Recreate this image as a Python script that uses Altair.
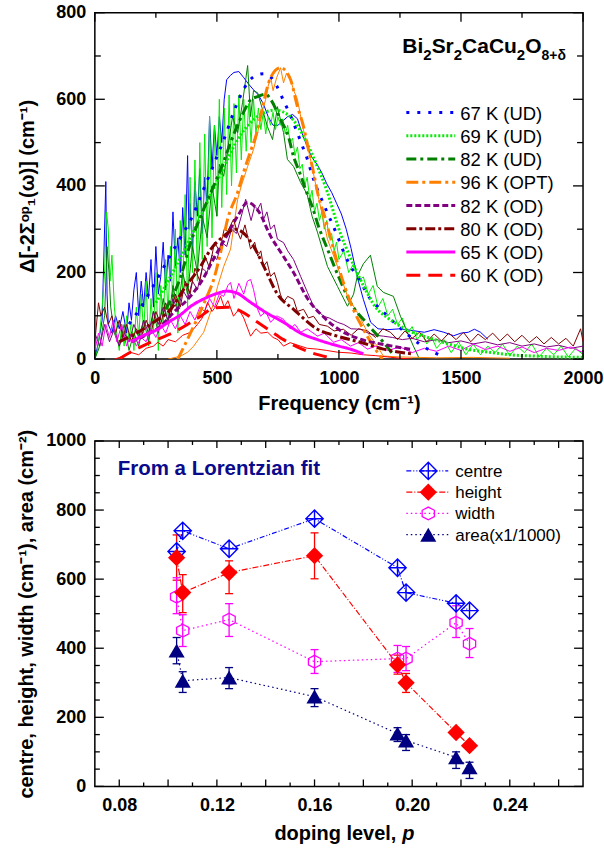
import altair as alt
import pandas as pd

FONT = "Liberation Sans"
W = 489
H1 = 347
H2 = 346

# ---------------- top panel ----------------
series_names = ["67 K (UD)", "69 K (UD)", "82 K (UD)", "96 K (OPT)",
                "82 K (OD)", "80 K (OD)", "65 K (OD)", "60 K (OD)"]
series_colors = ["#0000ff", "#00ee00", "#007f00", "#ff8000",
                 "#800080", "#800000", "#ff00ff", "#ff0000"]
fit_dashes = [[3, 8], [2, 2], [10, 4, 3, 4], [12, 4, 3, 4],
              [6, 3], [10, 3, 3, 3], [1, 0], [14, 8]]

# measured spectra (thin lines)
d67_x = [0, 15, 30, 45, 50, 55, 70, 85, 100, 115, 130, 140, 150, 160, 170, 180, 190, 200, 210, 220,
         230, 240, 250, 260, 270, 280, 290, 300, 310, 320, 330, 340, 350, 360, 370, 380, 385, 390, 400, 410,
         420, 430, 440, 450, 460, 470, 480, 490, 500, 510, 520, 530, 540, 555, 570, 590, 610, 630, 650, 670,
         690, 710, 730, 750, 770, 790, 810, 830, 850, 870, 890, 910, 930, 950, 970, 990, 1010, 1030, 1050, 1075,
         1100, 1130, 1160, 1200, 1250, 1300, 1350, 1390, 1430, 1470, 1500, 1530, 1555, 1580, 1610]
d67_y = [0, 40, 90, 410, 150, 80, 60, 100, 70, 110, 60, 130, 90, 160, 200, 100, 180, 120, 200, 140,
         230, 120, 260, 150, 190, 270, 160, 240, 180, 340, 210, 280, 200, 350, 240, 470, 300, 360, 250, 410,
         330, 440, 290, 420, 360, 560, 440, 540, 470, 560, 500, 600, 645, 655, 662, 664, 650, 635, 622, 610,
         590, 560, 540, 540, 550, 560, 565, 555, 520, 490, 465, 450, 430, 405, 385, 360, 335, 300, 255, 190,
         138, 85, 70, 68, 70, 66, 62, 68, 62, 54, 60, 62, 69, 62, 46]

d69_x = [0, 10, 20, 30, 40, 48, 55, 62, 70, 80, 90, 100,
         110, 120, 130, 140, 150, 160, 170, 180, 190, 200,
         210, 220, 230, 240, 250, 260, 270, 280, 290, 300,
         310, 320, 330, 340, 350, 360, 370, 380, 390, 400,
         410, 420, 430, 440, 450, 460, 470, 480, 490, 500,
         510, 520, 530, 540, 550, 560, 570, 580, 590, 600,
         610, 620, 630, 640, 650, 660, 670, 680, 690, 700,
         710, 720, 730, 740, 750, 760, 770, 780, 790, 800,
         810, 820, 830, 840, 850, 860, 870, 880, 890, 900,
         910, 920, 930, 940, 950, 960, 970, 980, 990, 1000,
         1020, 1040, 1060, 1080, 1100, 1120, 1140, 1160, 1180, 1200,
         1220, 1240, 1260, 1280, 1300, 1320, 1340, 1360, 1380, 1400,
         1430, 1460, 1490, 1520, 1550, 1580, 1610, 1640, 1670, 1700,
         1730, 1760, 1790, 1820, 1850, 1880, 1910, 1940, 1970, 2000]
d69_y = [0, 20, 60, 120, 200, 340, 300, 180, 240, 120, 60, 20,
         80, 30, 100, 40, 90, 20, 120, 50, 150, 60,
         180, 30, 140, 60, 200, 20, 170, 80, 230, 100,
         260, 120, 300, 60, 320, 150, 380, 120, 420, 200,
         460, 180, 500, 230, 520, 260, 560, 280, 540, 330,
         600, 350, 580, 380, 610, 400, 590, 430, 610, 460,
         600, 480, 590, 500, 600, 520, 580, 530, 570, 520,
         560, 540, 570, 530, 560, 540, 555, 520, 540, 500,
         510, 470, 490, 440, 450, 400, 420, 370, 390, 340,
         360, 320, 340, 300, 320, 280, 290, 250, 270, 230,
         250, 200, 220, 180, 190, 150, 170, 120, 140, 100,
         115, 80, 95, 60, 75, 45, 60, 35, 50, 25,
         45, 15, 40, 10, 35, 10, 30, 15, 35, 8,
         30, 15, 35, 5, 25, 10, 30, 5, 25, 10]

d82u_x = [0, 20, 40, 50, 58, 65, 80, 100, 120, 140, 160, 180, 200, 220, 240, 260, 280, 300, 320, 340,
          360, 380, 400, 420, 440, 460, 480, 500, 510, 528, 544, 564, 585, 605, 626, 638, 650, 667, 685, 707,
          728, 748, 773, 789, 814, 843, 870, 890, 912, 953, 994, 1035, 1060, 1075, 1100, 1129, 1157, 1182, 1223, 1252,
          1280, 1305, 1330]
d82u_y = [0, 30, 100, 260, 200, 120, 60, 30, 80, 20, 60, 30, 90, 40, 110, 60, 140, 80, 170, 110,
          200, 150, 260, 200, 330, 280, 400, 330, 450, 422, 484, 560, 523, 592, 678, 560, 620, 615, 580, 537,
          507, 583, 523, 461, 445, 408, 380, 330, 293, 214, 168, 122, 150, 191, 220, 240, 168, 154, 145, 99,
          62, 30, 0]

d96_x = [300, 352, 380, 405, 434, 446, 474, 487, 503, 528, 556, 585, 600, 626, 650, 667, 680, 700, 710, 720,
         730, 745, 761, 773, 785, 802, 815, 830, 850, 880, 910, 953, 994, 1035, 1075, 1117, 1157, 1182, 1250, 1400,
         1550, 1700]
d96_y = [0, 7, 16, 30, 53, 62, 108, 130, 168, 214, 254, 369, 400, 445, 484, 523, 560, 600, 630, 652,
         620, 650, 673, 638, 660, 645, 620, 600, 540, 470, 390, 277, 214, 145, 108, 62, 30, 7, 5, 3,
         4, 2]

d82o_x = [0, 20, 40, 60, 80, 100, 120, 140, 160, 180, 200, 220, 240, 260, 280, 300, 320, 340, 360, 380,
          400, 420, 440, 460, 480, 500, 520, 540, 560, 580, 600, 618, 640, 655, 667, 680, 691, 705, 720, 735,
          748, 773, 790, 814, 843, 871, 896, 937, 960, 994, 1020, 1050, 1088, 1120, 1150, 1182, 1220, 1260, 1300, 1350,
          1400, 1450, 1500, 1550, 1600, 1650, 1700, 1750, 1800, 1850, 1900, 1950, 2000]
d82o_y = [60, 30, 80, 40, 70, 30, 60, 40, 80, 50, 90, 60, 110, 80, 120, 90, 140, 110, 160, 140,
          180, 160, 210, 200, 240, 230, 270, 260, 300, 290, 330, 369, 320, 353, 346, 360, 323, 340, 300, 310,
          277, 269, 250, 230, 191, 154, 122, 99, 95, 85, 80, 70, 69, 60, 55, 53, 50, 45, 48, 40,
          45, 38, 42, 35, 40, 33, 38, 30, 35, 28, 32, 25, 30]

d80o_x = [0, 15, 25, 40, 55, 70, 85, 100, 115, 130, 150, 170, 190, 210, 230, 250, 270, 290, 310, 330,
          350, 370, 390, 410, 430, 450, 470, 490, 510, 530, 544, 568, 580, 597, 615, 638, 655, 667, 680, 691,
          705, 720, 735, 748, 760, 773, 790, 814, 830, 855, 875, 896, 920, 953, 980, 1018, 1050, 1080, 1117, 1150,
          1180, 1211, 1240, 1270, 1300, 1330, 1360, 1390, 1420, 1450, 1480, 1510, 1540, 1570, 1600, 1630, 1660, 1690, 1720, 1750,
          1780, 1810, 1840, 1870, 1900, 1930, 1960, 1990, 2000]
d80o_y = [40, 130, 100, 120, 80, 100, 60, 90, 50, 80, 40, 70, 50, 90, 60, 110, 80, 130, 100, 150,
          120, 180, 150, 210, 180, 240, 210, 270, 250, 300, 295, 323, 300, 277, 310, 254, 270, 238, 250, 214,
          225, 191, 200, 177, 150, 131, 145, 138, 110, 115, 95, 99, 80, 76, 65, 69, 55, 70, 65, 50,
          70, 62, 45, 65, 48, 62, 40, 58, 42, 60, 45, 62, 40, 58, 45, 60, 42, 58, 40, 55,
          38, 52, 35, 50, 35, 48, 30, 70, 40]

d65o_x = [0, 15, 30, 45, 60, 75, 90, 110, 130, 150, 170, 190, 210, 230, 250, 270, 290, 310, 330, 350,
          370, 390, 410, 430, 450, 470, 490, 510, 528, 545, 556, 570, 590, 610, 625, 638, 650, 667, 679, 700,
          720, 745, 773, 800, 820, 843, 870, 912, 940, 978, 1010, 1047, 1080, 1117, 1150, 1200, 1250, 1300, 1350, 1400,
          1450, 1500, 1550, 1600, 1650, 1700, 1750, 1800, 1850, 1900, 1950, 2000]
d65o_y = [20, 60, 30, 80, 50, 90, 40, 80, 30, 60, 30, 50, 40, 70, 50, 80, 60, 90, 70, 100,
          80, 110, 90, 120, 110, 140, 120, 150, 145, 170, 177, 140, 175, 150, 180, 184, 161, 115, 99, 110,
          85, 100, 92, 70, 80, 62, 70, 53, 60, 39, 45, 30, 38, 23, 30, 20, 28, 15, 25, 18,
          30, 20, 35, 22, 30, 18, 28, 15, 25, 20, 28, 15]

d60o_x = [80, 119, 150, 180, 210, 240, 258, 280, 300, 330, 360, 393, 420, 440, 462, 480, 500, 515, 530, 545,
          568, 590, 610, 638, 660, 680, 708, 730, 750, 773, 800, 843, 870, 912, 950, 994, 1050, 1100, 1150, 1200,
          1250, 1300]
d60o_y = [0, 7, 15, 10, 25, 30, 39, 30, 45, 40, 55, 62, 80, 95, 131, 110, 125, 145, 120, 135,
          99, 115, 95, 53, 70, 60, 62, 50, 45, 30, 38, 30, 25, 23, 20, 16, 14, 10, 8, 5,
          2, 0]

# Lorentzian fits (thick lines)
f67_x = [140, 200, 250, 300, 350, 400, 440, 474, 499, 524, 568, 593, 630, 660, 691, 720, 744, 773, 802, 826,
         851, 871, 892, 941, 994, 1018, 1043, 1088, 1121, 1178, 1243, 1330, 1430]
f67_y = [81, 130, 180, 230, 280, 330, 385, 431, 466, 500, 569, 604, 641, 655, 659, 652, 632, 597, 562, 528,
         491, 461, 422, 353, 284, 249, 219, 180, 145, 111, 76, 35, 5]
f69_x = [250, 300, 400, 500, 600, 680, 740, 800, 850, 900, 950, 1000, 1050, 1100, 1150, 1200, 1252, 1300, 1387, 1450,
         1526, 1600, 1700, 1800, 1900, 2000]
f69_y = [130, 180, 290, 410, 520, 565, 575, 560, 520, 460, 390, 300, 230, 170, 120, 95, 76, 62, 46, 35,
         23, 17, 10, 7, 5, 4]
f82u_x = [290, 352, 393, 434, 487, 524, 556, 605, 640, 667, 700, 720, 761, 794, 814, 839, 863, 892, 916, 953,
          998, 1047, 1117, 1182, 1223]
f82u_y = [115, 191, 270, 330, 400, 450, 500, 565, 600, 606, 612, 600, 553, 512, 468, 431, 392, 350, 307, 254,
          191, 131, 81, 39, 10]
f96_x = [340, 360, 405, 454, 487, 515, 544, 585, 609, 638, 667, 691, 720, 761, 802, 830, 855, 875, 896, 916,
         945, 978, 1018, 1059, 1100, 1141, 1178]
f96_y = [0, 23, 76, 138, 184, 246, 323, 385, 431, 480, 530, 592, 650, 673, 645, 583, 537, 484, 431, 376,
         323, 254, 177, 115, 69, 30, 0]
f82o_x = [150, 200, 270, 323, 380, 434, 490, 540, 590, 626, 671, 720, 773, 814, 871, 932, 1006, 1088, 1200, 1300]
f82o_y = [40, 53, 76, 108, 138, 177, 235, 285, 335, 362, 341, 284, 237, 200, 140, 100, 66, 46, 32, 22]
f80o_x = [100, 176, 241, 311, 364, 434, 474, 528, 575, 605, 650, 700, 748, 814, 912, 994, 1088, 1182, 1300]
f80o_y = [40, 62, 85, 115, 161, 215, 253, 284, 300, 293, 261, 205, 150, 115, 69, 53, 39, 23, 12]
f65o_x = [147, 200, 258, 300, 350, 393, 450, 503, 540, 580, 638, 700, 773, 843, 912, 1000, 1047, 1100]
f65o_y = [40, 55, 69, 85, 102, 122, 140, 152, 157, 153, 131, 108, 85, 60, 45, 30, 23, 12]
f60o_x = [100, 119, 229, 323, 434, 487, 544, 597, 667, 720, 773, 871, 950]
f60o_y = [0, 7, 39, 62, 99, 118, 120, 111, 85, 65, 45, 18, 5]

data_xs = [d67_x, d69_x, d82u_x, d96_x, d82o_x, d80o_x, d65o_x, d60o_x]
data_ys = [d67_y, d69_y, d82u_y, d96_y, d82o_y, d80o_y, d65o_y, d60o_y]
fit_xs = [f67_x, f69_x, f82u_x, f96_x, f82o_x, f80o_x, f65o_x, f60o_x]
fit_ys = [f67_y, f69_y, f82u_y, f96_y, f82o_y, f80o_y, f65o_y, f60o_y]

# chemical formula pieces: (text, is_subscript)
formula_parts = [("Bi", False), ("2", True), ("Sr", False), ("2", True),
                 ("CaCu", False), ("2", True), ("O", False), ("8+δ", True)]


def long_table(xss, yss):
    rows = []
    for name, xs, ys in zip(series_names, xss, yss):
        assert len(xs) == len(ys), name
        for a, b in zip(xs, ys):
            rows.append({"series": name, "freq": a, "val": b})
    return pd.DataFrame(rows)


df_data = long_table(data_xs, data_ys)
df_fit = long_table(fit_xs, fit_ys)
one = pd.DataFrame({"k": [0]})

xs_top = alt.Scale(domain=[0, 2000], nice=False, zero=False)
ys_top = alt.Scale(domain=[0, 800], nice=False, zero=False)
color_scale = alt.Scale(domain=series_names, range=series_colors)

top_x_axis = alt.Axis(values=[0, 500, 1000, 1500, 2000], format="d", title="Frequency (cm⁻¹)",
                      labelPadding=10, titlePadding=6, labelFlush=False)
top_y_axis = alt.Axis(values=[0, 200, 400, 600, 800], format="d", title="Δ[-2Σᵒᵖ₁(ω)] (cm⁻¹)",
                      labelPadding=9, titlePadding=18)


def TX(field):
    return alt.X(f"{field}:Q", scale=xs_top, axis=top_x_axis)


def TY(field):
    return alt.Y(f"{field}:Q", scale=ys_top, axis=top_y_axis)


data_layer = alt.Chart(df_data).mark_line(strokeWidth=1, clip=True).encode(
    x=TX("freq"), y=TY("val"),
    color=alt.Color("series:N", scale=color_scale, legend=None),
)
fit_layer = alt.Chart(df_fit).mark_line(strokeWidth=3, clip=True, interpolate="monotone").encode(
    x=TX("freq"), y=TY("val"),
    color=alt.Color("series:N", scale=color_scale, legend=None),
    strokeDash=alt.StrokeDash("series:N", scale=alt.Scale(domain=series_names, range=fit_dashes), legend=None),
)


def ticks(vals, chan, XF, YF, length, W_, H_):
    df = pd.DataFrame({"v": vals})
    base = alt.Chart(df).mark_rule(color="black", strokeWidth=1.3)
    if chan == "x":
        enc = XF("v")
        return [base.encode(x=enc, y=alt.value(H_), y2=alt.value(H_ - length)),
                base.encode(x=enc, y=alt.value(0), y2=alt.value(length))]
    enc = YF("v")
    return [base.encode(y=enc, x=alt.value(0), x2=alt.value(length)),
            base.encode(y=enc, x=alt.value(W_), x2=alt.value(W_ - length))]


top_ticks = (ticks([0, 500, 1000, 1500, 2000], "x", TX, TY, 9, W, H1)
             + ticks([250, 750, 1250, 1750], "x", TX, TY, 5, W, H1)
             + ticks([0, 200, 400, 600, 800], "y", TX, TY, 10, W, H1)
             + ticks([100, 300, 500, 700], "y", TX, TY, 6, W, H1))

top_legend = []
for i, (name, col, dash) in enumerate(zip(series_names, series_colors, fit_dashes)):
    yy = 100 + i * 23.3
    top_legend.append(alt.Chart(one).mark_rule(color=col, strokeWidth=3, strokeDash=dash).encode(
        x=alt.value(312), x2=alt.value(361), y=alt.value(yy)))
    top_legend.append(alt.Chart(one).mark_text(align="left", baseline="middle", fontSize=18.5,
                                               font=FONT, color="black", text=name).encode(
        x=alt.value(366), y=alt.value(yy + 1)))

# formula title built from pieces (Arial-bold advance widths, em units)
ADV = {"B": .722, "i": .278, "S": .667, "r": .389, "C": .722, "a": .556, "u": .611, "O": .778,
       "2": .556, "8": .556, "+": .584, "δ": .611}
title_layers = []
cx = 308.0
for txt, sub in formula_parts:
    fs = (14 if txt.startswith("8") else 15) if sub else 21
    yb = 47 if sub else 40
    title_layers.append(alt.Chart(one).mark_text(align="left", baseline="alphabetic", fontSize=fs,
                                                 fontWeight="bold", font=FONT, color="black", text=txt).encode(
        x=alt.value(cx), y=alt.value(yb)))
    cx += sum(ADV[c] for c in txt) * fs

top = alt.layer(data_layer, fit_layer, *top_ticks, *top_legend, *title_layers).properties(
    width=W, height=H1)

# ---------------- bottom panel ----------------
p_vals = [0.1035, 0.106, 0.125, 0.160, 0.194, 0.1975, 0.218, 0.2235]
centre = [680, 740, 688, 775, 633, 561, 530, 509]
height = [662, 561, 619, 668, 352, 300, 156, 118]
height_lo = [597, 503, 558, 601, 325, 272, 145, 108]
height_hi = [728, 613, 653, 734, 380, 327, 167, 128]
width = [549, 451, 483, 361, 370, 370, 474, 413]
width_lo = [500, 405, 434, 327, 330, 335, 431, 373]
width_hi = [604, 497, 529, 396, 408, 405, 523, 457]
area = [393, 306, 315, 260, 153, 133, 84, 55]
area_lo = [355, 272, 283, 231, 130, 104, 52, 23]
area_hi = [431, 332, 344, 283, 170, 150, 100, 70]

bottom_names = ["centre", "height", "width", "area(x1/1000)"]
bottom_colors = ["#0000ff", "#ff0000", "#ff00ff", "#000080"]
bottom_dashes = [[5, 2, 1, 2, 1, 2], [6, 2, 1, 2], [1.5, 3], [1.5, 3]]

df_b = pd.DataFrame({"p": p_vals, "centre": centre, "height": height, "height_lo": height_lo,
                     "height_hi": height_hi, "width": width, "width_lo": width_lo, "width_hi": width_hi,
                     "area": area, "area_lo": area_lo, "area_hi": area_hi})

xs_b = alt.Scale(domain=[0.07, 0.27], nice=False, zero=False)
ys_b = alt.Scale(domain=[0, 1000], nice=False, zero=False)
bot_x_axis = alt.Axis(values=[0.08, 0.12, 0.16, 0.20, 0.24], format=".2f", title=None,
                      labelPadding=10, labelFlush=False)
bot_y_axis = alt.Axis(values=[0, 200, 400, 600, 800, 1000], format="d",
                      title="centre, height, width (cm⁻¹), area (cm⁻²)", labelPadding=9, titlePadding=9)

DIAMOND_PLUS = "M0,-1L1,0L0,1L-1,0Z M-1,0L1,0 M0,-1L0,1"
HEXAGON = "M0,-0.9L0.866,-0.45L0.866,0.45L0,0.9L-0.866,0.45L-0.866,-0.45Z"


def BX(field="p"):
    return alt.X(f"{field}:Q", scale=xs_b, axis=bot_x_axis)


def BY(field):
    return alt.Y(f"{field}:Q", scale=ys_b, axis=bot_y_axis)


layers_b = []
for f, col, dash in [("centre", bottom_colors[0], bottom_dashes[0]),
                     ("height", bottom_colors[1], bottom_dashes[1]),
                     ("width", bottom_colors[2], bottom_dashes[2]),
                     ("area", bottom_colors[3], bottom_dashes[3])]:
    layers_b.append(alt.Chart(df_b).mark_line(color=col, strokeWidth=1.2, strokeDash=dash).encode(
        x=BX(), y=BY(f)))
# error bars
for f, col in [("height", "#ff0000"), ("width", "#ff00ff"), ("area", "#000080")]:
    layers_b.append(alt.Chart(df_b).mark_rule(color=col, strokeWidth=1.3).encode(
        x=BX(), y=BY(f + "_lo"), y2=alt.Y2(f + "_hi")))
    for end in ["_lo", "_hi"]:
        layers_b.append(alt.Chart(df_b).mark_rule(color=col, strokeWidth=1.3, xOffset=-4, x2Offset=4).encode(
            x=BX(), x2=alt.X2("p"), y=BY(f + end)))
# markers
layers_b.append(alt.Chart(df_b).mark_point(shape=HEXAGON, size=200, filled=False, color="#ff00ff",
                                          strokeWidth=1.3, opacity=1).encode(x=BX(), y=BY("width")))
layers_b.append(alt.Chart(df_b).mark_point(shape="triangle-up", size=260, filled=True, color="#000080",
                                          opacity=1).encode(x=BX(), y=BY("area")))
layers_b.append(alt.Chart(df_b).mark_point(shape=DIAMOND_PLUS, size=300, filled=False, color="#0000ff",
                                          strokeWidth=1.4, opacity=1).encode(x=BX(), y=BY("centre")))
layers_b.append(alt.Chart(df_b).mark_point(shape="diamond", size=300, filled=True, color="#ff0000",
                                          opacity=1).encode(x=BX(), y=BY("height")))

bot_ticks = (ticks([0.08, 0.10, 0.12, 0.14, 0.16, 0.18, 0.20, 0.22, 0.24, 0.26], "x", BX, BY, 7, W, H2)
             + ticks([0.09, 0.11, 0.13, 0.15, 0.17, 0.19, 0.21, 0.23, 0.25], "x", BX, BY, 4, W, H2)
             + ticks([0, 200, 400, 600, 800, 1000], "y", BX, BY, 9, W, H2)
             + ticks([50, 100, 150, 250, 300, 350, 450, 500, 550, 650, 700, 750, 850, 900, 950], "y", BX, BY, 5, W, H2))

marker_specs = [
    dict(shape=DIAMOND_PLUS, size=300, filled=False, strokeWidth=1.4),
    dict(shape="diamond", size=300, filled=True),
    dict(shape=HEXAGON, size=200, filled=False, strokeWidth=1.3),
    dict(shape="triangle-up", size=260, filled=True),
]
bot_legend = []
for i, (name, col, dash, spec) in enumerate(zip(bottom_names, bottom_colors, bottom_dashes, marker_specs)):
    yy = 30 + i * 21.3
    bot_legend.append(alt.Chart(one).mark_rule(color=col, strokeWidth=1.2, strokeDash=dash).encode(
        x=alt.value(312), x2=alt.value(354), y=alt.value(yy)))
    bot_legend.append(alt.Chart(one).mark_point(color=col, opacity=1, **spec).encode(
        x=alt.value(334), y=alt.value(yy)))
    bot_legend.append(alt.Chart(one).mark_text(align="left", baseline="middle", fontSize=17, font=FONT,
                                               color="black", text=name).encode(
        x=alt.value(361), y=alt.value(yy + 1)))

fit_label = alt.Chart(one).mark_text(align="left", baseline="alphabetic", fontSize=20.5, fontWeight="bold",
                                     font=FONT, color="#0a0a8c", text="From a Lorentzian fit").encode(
    x=alt.value(23), y=alt.value(34))
xlab1 = alt.Chart(one).mark_text(align="right", baseline="alphabetic", fontSize=20, fontWeight="bold",
                                 font=FONT, color="black", text="doping level,").encode(
    x=alt.value(302), y=alt.value(400))
xlab2 = alt.Chart(one).mark_text(align="left", baseline="alphabetic", fontSize=20, fontWeight="bold",
                                 fontStyle="italic", font=FONT, color="black", text="p").encode(
    x=alt.value(308), y=alt.value(400))

bottom = alt.layer(*layers_b, *bot_ticks, *bot_legend, fit_label, xlab1, xlab2).properties(width=W, height=H2)

chart = alt.vconcat(top, bottom, spacing=14).properties(
    padding={"left": 16, "top": 2, "right": 0, "bottom": 2},
    background="white",
).configure_view(stroke="black", strokeWidth=1.5).configure_axis(
    domain=False, ticks=False, grid=False,
    labelFont=FONT, labelFontSize=18, labelFontWeight="bold", labelColor="black",
    titleFont=FONT, titleFontSize=20, titleFontWeight="bold", titleColor="black",
)

chart.save("out.html", embed_options={"renderer": "svg", "actions": False})
